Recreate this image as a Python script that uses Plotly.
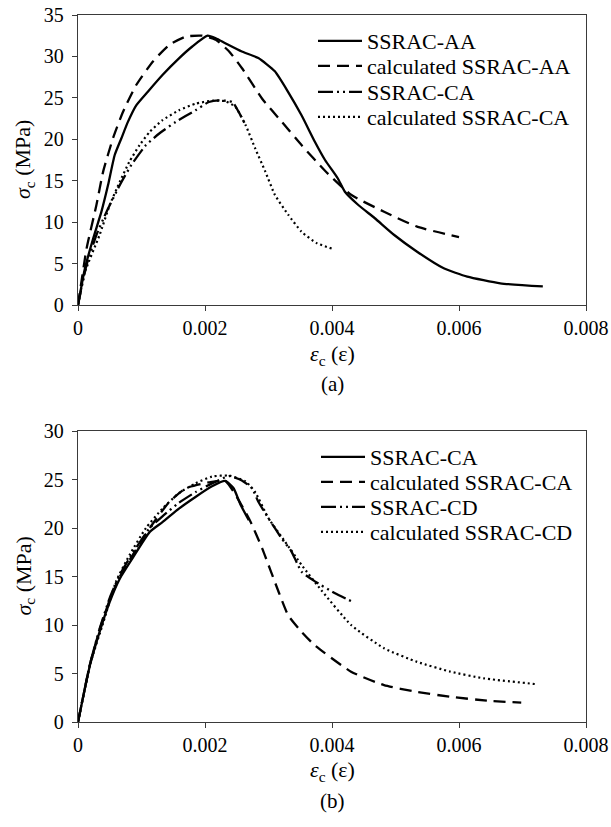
import plotly.graph_objects as go

W, H = 611, 827
FONT = "Liberation Serif, Times New Roman, serif"

# ---------------- data ----------------
x_tickvals = [0, 0.002, 0.004, 0.006, 0.008]
x_ticktext = ["0", "0.002", "0.004", "0.006", "0.008"]
y_tickvals_a = [0, 5, 10, 15, 20, 25, 30, 35]
y_tickvals_b = [0, 5, 10, 15, 20, 25, 30]

# (a) SSRAC-AA experimental
aa_exp_x = [0, 0.000109, 0.00024, 0.00037, 0.000474, 0.000578, 0.000682, 0.000786, 0.000917, 0.0011,
            0.00133, 0.00159, 0.0018, 0.00204, 0.00217, 0.00232, 0.00258, 0.00284, 0.0031, 0.00331,
            0.00352, 0.00373, 0.00389, 0.00409, 0.0042, 0.00441, 0.00467, 0.00498, 0.00534, 0.00576,
            0.00613, 0.00665, 0.00732]
aa_exp_y = [0, 4.4, 8.05, 11.3, 14.5, 18.1, 20.1, 22.1, 24.1, 25.75,
            27.76, 29.77, 31.2, 32.5, 32.2, 31.6, 30.6, 29.8, 28.2, 25.7,
            22.9, 19.7, 17.5, 15.3, 13.7, 12.1, 10.5, 8.45, 6.43, 4.43,
            3.42, 2.62, 2.25]
# (a) calculated SSRAC-AA
aa_cal_x = [0, 0.000135, 0.00029, 0.000396, 0.00055, 0.000708, 0.000917, 0.00118, 0.00144, 0.0017,
            0.00196, 0.00217, 0.00238, 0.00258, 0.0029, 0.00321, 0.00352, 0.00389, 0.0043, 0.00482,
            0.00534, 0.006]
aa_cal_y = [0, 6.8, 12.07, 16.1, 20.1, 23.3, 26.55, 29.4, 31.4, 32.4,
            32.5, 32.0, 30.6, 28.6, 24.9, 22.1, 19.3, 16.2, 13.3, 11.26,
            9.45, 8.2]
# (a) SSRAC-CA experimental
ca_exp_a_x = [0, 0.000135, 0.00029, 0.00045, 0.00066, 0.00084, 0.00107, 0.00128, 0.00154, 0.00185,
              0.00206, 0.00222, 0.00243, 0.00253, 0.00262]
ca_exp_a_y = [0, 4.83, 8.45, 11.26, 14.5, 16.9, 19.3, 20.7, 22.1, 23.5,
              24.5, 24.7, 24.5, 23.3, 22.0]
# (a) calculated SSRAC-CA
ca_cal_a_x = [0, 0.00011, 0.00034, 0.0005, 0.00066, 0.00081, 0.00097, 0.00113, 0.00133, 0.00159,
              0.00185, 0.00211, 0.00232, 0.00248, 0.00264, 0.00279, 0.00295, 0.0031, 0.00331, 0.00352,
              0.00375, 0.004]
ca_cal_a_y = [0, 4.0, 8.45, 12.07, 14.9, 17.3, 19.3, 20.9, 22.3, 23.5,
              24.3, 24.65, 24.6, 23.9, 21.7, 18.9, 16.1, 13.3, 10.9, 8.85,
              7.5, 6.8]

# (b) SSRAC-CA experimental
ca_exp_b_x = [0, 0.00019, 0.00034, 0.0005, 0.00066, 0.00086, 0.00113, 0.00133, 0.00159, 0.00185,
              0.00211, 0.00232, 0.00245, 0.00256, 0.00269]
ca_exp_b_y = [0, 5.9, 9.3, 12.4, 14.8, 16.9, 19.6, 20.6, 22.0, 23.2,
              24.3, 24.85, 24.1, 22.4, 20.8]
# (b) calculated SSRAC-CA
ca_cal_b_x = [0, 0.00019, 0.00034, 0.0005, 0.00066, 0.00086, 0.00113, 0.00144, 0.0017, 0.00206,
              0.00232, 0.00269, 0.0029, 0.00316, 0.00331, 0.00352, 0.00373, 0.0043, 0.00482, 0.00534,
              0.00586, 0.00644, 0.00698]
ca_cal_b_y = [0, 6.0, 9.5, 12.6, 15.0, 17.2, 20.0, 22.7, 24.1, 24.7,
              24.85, 21.0, 17.9, 13.4, 11.0, 9.3, 7.9, 5.19, 3.8, 3.1,
              2.6, 2.2, 2.0]
# (b) SSRAC-CD experimental
cd_exp_x = [0, 0.00019, 0.00034, 0.0005, 0.00066, 0.00086, 0.00113, 0.00133, 0.00159, 0.00185,
            0.00211, 0.00238, 0.00258, 0.00274, 0.00284, 0.003, 0.00321, 0.00336, 0.00352, 0.00373,
            0.00404, 0.00432]
cd_exp_y = [0, 6.0, 9.6, 12.8, 15.2, 17.4, 20.0, 21.2, 22.6, 23.7,
            24.6, 25.35, 24.9, 24.1, 22.7, 21.0, 18.9, 17.6, 15.5, 14.5,
            13.3, 12.4]
# (b) calculated SSRAC-CD
cd_cal_x = [0, 0.00019, 0.0004, 0.0006, 0.00081, 0.00107, 0.00133, 0.00159, 0.00185, 0.00211,
            0.00238, 0.00264, 0.00279, 0.003, 0.00326, 0.00352, 0.00383, 0.0043, 0.00482, 0.00534,
            0.00586, 0.00639, 0.00722]
cd_cal_y = [0, 5.9, 10.3, 14.5, 17.2, 20.0, 22.0, 23.6, 24.6, 25.3,
            25.4, 24.8, 23.7, 21.0, 18.6, 16.2, 13.6, 10.0, 7.6, 6.2,
            5.2, 4.5, 3.9]

# ---------------- styles ----------------
SOLID = dict(color="black", width=2.3, dash="solid", shape="spline", smoothing=0.5)
DASH = dict(color="black", width=2.3, dash="12px,7px", shape="spline", smoothing=0.5)
DASHDOT = dict(color="black", width=2.3, dash="15px,4px,2px,4px,2px,4px", shape="spline", smoothing=0.5)
DOT = dict(color="black", width=2.2, dash="2px,3px", shape="spline", smoothing=0.5)

fig = go.Figure()

def add(x, y, name, line, xa, ya, legend):
    fig.add_trace(go.Scatter(x=x, y=y, mode="lines", name=name, line=line,
                             xaxis=xa, yaxis=ya, legend=legend))

add(aa_exp_x, aa_exp_y, "SSRAC-AA", SOLID, "x", "y", "legend")
add(aa_cal_x, aa_cal_y, "calculated SSRAC-AA", DASH, "x", "y", "legend2")
add(ca_exp_a_x, ca_exp_a_y, "SSRAC-CA", DASHDOT, "x", "y", "legend3")
add(ca_cal_a_x, ca_cal_a_y, "calculated SSRAC-CA", DOT, "x", "y", "legend4")
add(ca_exp_b_x, ca_exp_b_y, "SSRAC-CA", SOLID, "x2", "y2", "legend5")
add(ca_cal_b_x, ca_cal_b_y, "calculated SSRAC-CA", DASH, "x2", "y2", "legend6")
add(cd_exp_x, cd_exp_y, "SSRAC-CD", DASHDOT, "x2", "y2", "legend7")
add(cd_cal_x, cd_cal_y, "calculated SSRAC-CD", DOT, "x2", "y2", "legend8")

def px(xp):
    return xp / W

def py(yp):
    return 1 - yp / H

X0, X1 = 78, 586
A_TOP, A_BOT = 15, 305
B_TOP, B_BOT = 431, 722

axis_common = dict(showline=True, linecolor="#3a3a3a", linewidth=1.3, mirror=True,
                   ticks="outside", ticklen=5, tickwidth=1.3, tickcolor="#3a3a3a",
                   showgrid=False, zeroline=False, ticklabeloverflow="allow",
                   automargin=False,
                   tickfont=dict(family=FONT, size=20, color="black"))

layout = dict(
    width=W, height=H, margin=dict(l=0, r=0, t=0, b=0, autoexpand=False),
    paper_bgcolor="white", plot_bgcolor="white",
    font=dict(family=FONT, color="black"),
    xaxis=dict(domain=[px(X0), px(X1)], range=[0, 0.008], anchor="y",
               tickvals=x_tickvals, ticktext=x_ticktext, **axis_common),
    yaxis=dict(domain=[py(A_BOT), py(A_TOP)], range=[0, 35], anchor="x",
               tickvals=y_tickvals_a, ticklabelstandoff=4, **axis_common),
    xaxis2=dict(domain=[px(X0), px(X1)], range=[0, 0.008], anchor="y2",
                tickvals=x_tickvals, ticktext=x_ticktext, **axis_common),
    yaxis2=dict(domain=[py(B_BOT), py(B_TOP)], range=[0, 30], anchor="x2",
                tickvals=y_tickvals_b, ticklabelstandoff=4, **axis_common),
    showlegend=True,
)

leg_rows_a = [41, 66, 92, 117]
leg_rows_b = [457, 482, 507, 532]
leg_x_a = 313
leg_x_b = 316
for i, yrow in enumerate(leg_rows_a + leg_rows_b):
    key = "legend" if i == 0 else f"legend{i+1}"
    lx = leg_x_a if i < 4 else leg_x_b
    layout[key] = dict(x=px(lx), y=py(yrow), xanchor="left", yanchor="middle",
                       bgcolor="rgba(0,0,0,0)", borderwidth=0, itemwidth=44,
                       font=dict(family=FONT, size=22, color="black"))

fig.update_layout(**layout)

ann = []
for yc in [(A_TOP + A_BOT) / 2, (B_TOP + B_BOT) / 2]:
    ann.append(dict(x=px(24), y=py(yc), xref="paper", yref="paper",
                    text="<i>σ</i><sub>c</sub> (MPa)", textangle=-90, showarrow=False,
                    font=dict(family=FONT, size=22, color="black"),
                    xanchor="center", yanchor="middle"))
for (yt, yl, lab) in [(355, 384, "(a)"), (771, 801, "(b)")]:
    ann.append(dict(x=px((X0 + X1) / 2), y=py(yt), xref="paper", yref="paper",
                    text="<i>ε</i><sub>c</sub> (ε)", showarrow=False,
                    font=dict(family=FONT, size=22, color="black"),
                    xanchor="center", yanchor="middle"))
    ann.append(dict(x=px((X0 + X1) / 2), y=py(yl), xref="paper", yref="paper",
                    text=lab, showarrow=False,
                    font=dict(family=FONT, size=21, color="black"),
                    xanchor="center", yanchor="middle"))
fig.update_layout(annotations=ann)

fig.write_html("out.html")
